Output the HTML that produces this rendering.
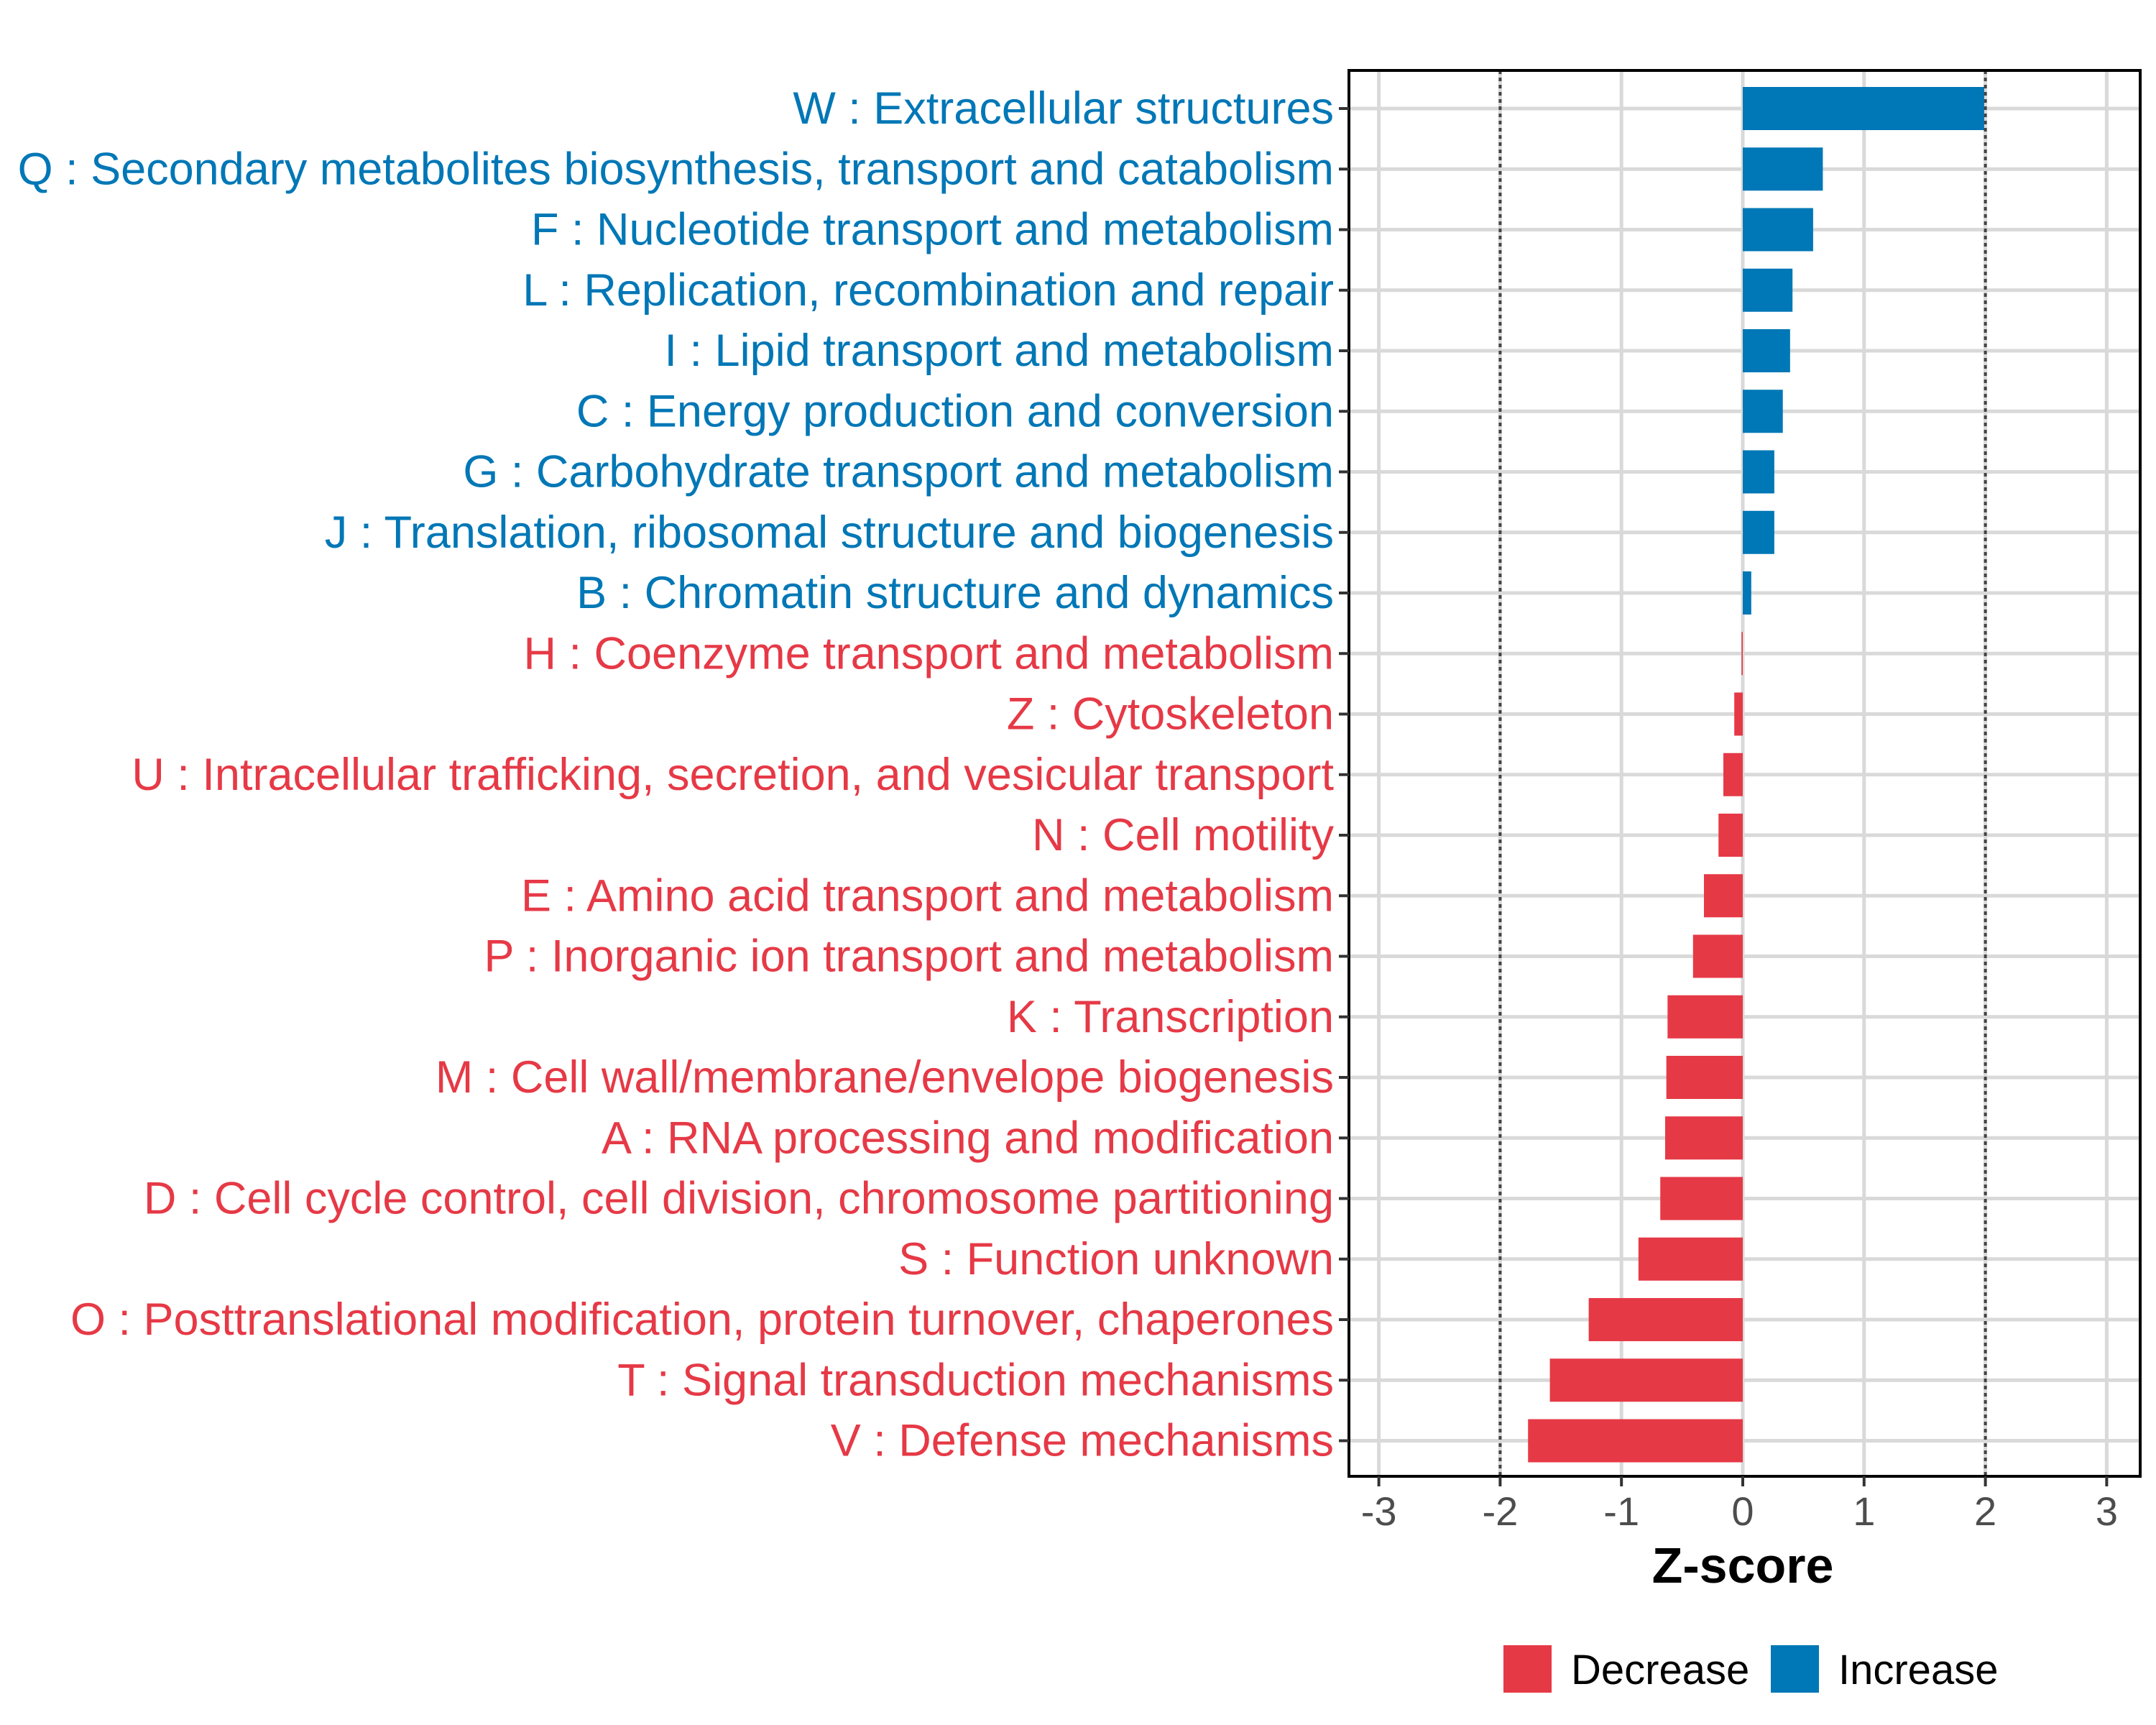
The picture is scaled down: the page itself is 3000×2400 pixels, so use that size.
<!DOCTYPE html>
<html><head><meta charset="utf-8"><style>
html,body{margin:0;padding:0;background:#fff;}
svg{display:block;font-family:"Liberation Sans",sans-serif;}
</style></head><body>
<svg id="chart" width="3000" height="2400" viewBox="0 0 3000 2400" xmlns="http://www.w3.org/2000/svg">
<rect width="3000" height="2400" fill="#fff"/>
<g id="grid"></g>
<g id="bars"></g>
<g id="refs"></g>
<rect x="1877" y="98" width="1101" height="1956" fill="none" stroke="#000" stroke-width="4"/>
<g id="ylabels"></g>
<g id="xaxis"></g>
<text x="2425" y="2202" text-anchor="middle" font-size="70" font-weight="bold" fill="#000">Z-score</text>
<g>
<rect x="2092" y="2289" width="67" height="66" fill="#E63946"/>
<text x="2186" y="2343" font-size="58" fill="#000">Decrease</text>
<rect x="2464" y="2289" width="67" height="66" fill="#0077B6"/>
<text x="2558" y="2343" font-size="58" fill="#000">Increase</text>
</g>
</svg>
<script>
const categories = ["W : Extracellular structures","Q : Secondary metabolites biosynthesis, transport and catabolism","F : Nucleotide transport and metabolism","L : Replication, recombination and repair","I : Lipid transport and metabolism","C : Energy production and conversion","G : Carbohydrate transport and metabolism","J : Translation, ribosomal structure and biogenesis","B : Chromatin structure and dynamics","H : Coenzyme transport and metabolism","Z : Cytoskeleton","U : Intracellular trafficking, secretion, and vesicular transport","N : Cell motility","E : Amino acid transport and metabolism","P : Inorganic ion transport and metabolism","K : Transcription","M : Cell wall/membrane/envelope biogenesis","A : RNA processing and modification","D : Cell cycle control, cell division, chromosome partitioning","S : Function unknown","O : Posttranslational modification, protein turnover, chaperones","T : Signal transduction mechanisms","V : Defense mechanisms"];
const zscores = [1.99,0.66,0.58,0.41,0.39,0.33,0.26,0.26,0.07,-0.01,-0.07,-0.16,-0.2,-0.32,-0.41,-0.62,-0.63,-0.64,-0.68,-0.86,-1.27,-1.59,-1.77];
const xTicks = [-3,-2,-1,0,1,2,3];
const xTickLabels = ["-3","-2","-1","0","1","2","3"];
const refLines = [-2,2];

const NS="http://www.w3.org/2000/svg";
const X0=2425, UNIT=168.8, L=1877, R=2978, T=98, B=2054;
const ROW0=151, ROWSTEP=84.25, BARH=60;
function xs(v){return X0+v*UNIT;}
function ys(i){return ROW0+i*ROWSTEP;}
function mk(tag,attrs,parent){const e=document.createElementNS(NS,tag);for(const k in attrs)e.setAttribute(k,attrs[k]);parent.appendChild(e);return e;}
const grid=document.getElementById('grid'),bars=document.getElementById('bars'),refs=document.getElementById('refs'),yl=document.getElementById('ylabels'),xa=document.getElementById('xaxis');
xTicks.forEach((t,i)=>{
  const g=mk('line',{x1:xs(t),x2:xs(t),y1:T,y2:B,stroke:'#d9d9d9','stroke-width':5},grid);
  
  
  const tk=mk('line',{x1:xs(t),x2:xs(t),y1:B,y2:B+14,stroke:'#333','stroke-width':4},xa);
  
  
  const lb=mk('text',{x:xs(t),y:B+68,'text-anchor':'middle','font-size':56,fill:'#4d4d4d'},xa);
  lb.textContent=xTickLabels[i];
  
  
});
categories.forEach((c,i)=>{
  const y=ys(i);
  const g=mk('line',{x1:L,x2:R,y1:y,y2:y,stroke:'#d9d9d9','stroke-width':5},grid);
  
  
  const v=zscores[i];
  const col=v>=0?'#0077B6':'#E63946';
  const b=mk('rect',{x:Math.min(xs(0),xs(v)),y:y-BARH/2,width:Math.max(Math.abs(xs(v)-xs(0)),1.5),height:BARH,fill:col},bars);
  
  
  const tk=mk('line',{x1:L-14,x2:L,y1:y,y2:y,stroke:'#333','stroke-width':4},yl);
  
  
  const t=mk('text',{x:1856,y:y+21,'text-anchor':'end','font-size':63,fill:col},yl);
  t.textContent=c;
  
  
});
refLines.forEach(r=>{
  const l=mk('line',{x1:xs(r),x2:xs(r),y1:T,y2:B,stroke:'#444','stroke-width':4,'stroke-dasharray':'5 5'},refs);
  
  
});
</script>
</body></html>
